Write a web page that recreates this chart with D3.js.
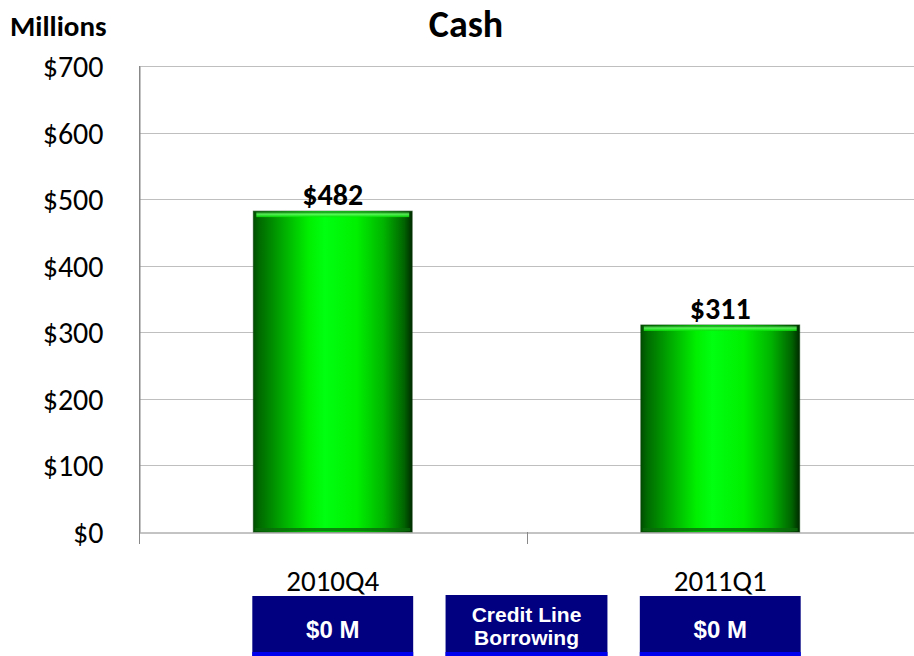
<!DOCTYPE html>
<html><head><meta charset="utf-8">
<script src="https://cdn.jsdelivr.net/npm/d3@7"></script>
<style>body{margin:0;background:#fff}svg{display:block}</style>
</head><body>
<svg id="c" width="914" height="656"></svg>
<script>
const categories = ["2010Q4", "2011Q1"];
const cashValues = [482, 311];
const valueLabels = ["$482", "$311"];
const yTicks = [0, 100, 200, 300, 400, 500, 600, 700];
const boxLabels = [["$0 M"], ["Credit Line", "Borrowing"], ["$0 M"]];
const title = "Cash";
const unitLabel = "Millions";

(function () {
const svg = d3.select("#c");
const font = "Calibri, Carlito, 'Open Sans', sans-serif";
const pLeft = 139, pRight = 914, pTop = 66, pBottom = 532;

const x = d3.scaleBand().domain(categories).range([pLeft, pRight]);
const y = d3.scaleLinear().domain([0, 700]).range([pBottom, pTop]);
const barW = x.bandwidth() * 0.41;

const defs = svg.append("defs");
const g = defs.append("linearGradient").attr("id", "gbar").attr("x1", "0").attr("x2", "1").attr("y1", "0").attr("y2", "0");
[[0, "#004d00"], [0.04, "#006b00"], [0.18, "#00a800"], [0.35, "#00f000"], [0.45, "#00ff10"], [0.65, "#00f000"], [0.82, "#00b400"], [0.95, "#006400"], [1, "#002a00"]]
  .forEach(([o, c]) => g.append("stop").attr("offset", o).attr("stop-color", c));
const gt = defs.append("linearGradient").attr("id", "gtop").attr("x1", "0").attr("x2", "0").attr("y1", "0").attr("y2", "1");
[[0, "#1a7a1a"], [0.4, "#66ff66"], [1, "#00e000"]].forEach(([o, c]) => gt.append("stop").attr("offset", o).attr("stop-color", c));

// gridlines
svg.append("g").selectAll("line").data(yTicks.filter(d => d > 0)).join("line")
  .attr("x1", pLeft).attr("x2", pRight).attr("y1", d => Math.round(y(d)) + 0.5).attr("y2", d => Math.round(y(d)) + 0.5)
  .attr("stroke", "#bfbfbf").attr("stroke-width", 1);

// y axis
const ya = svg.append("g").attr("transform", `translate(${pLeft + 0.5},0)`)
  .call(d3.axisLeft(y).tickValues(yTicks).tickSize(0).tickPadding(36).tickFormat(d => "$" + d));
ya.select(".domain").attr("stroke", "#888");
ya.selectAll("text").attr("font-family", font).attr("font-size", 30).attr("fill", "#000").attr("dy", "0.35em");

// x axis
const xa = svg.append("g").attr("transform", `translate(0,${Math.round(pBottom) + 0.5})`)
  .call(d3.axisBottom(x).tickSize(0).tickFormat(""));
xa.select(".domain").attr("stroke", "#888");
svg.append("g").selectAll("line").data([pLeft, x(categories[1]), pRight - 0.5]).join("line")
  .attr("x1", d => Math.round(d) + 0.5).attr("x2", d => Math.round(d) + 0.5)
  .attr("y1", pBottom).attr("y2", pBottom + 12).attr("stroke", "#888");
svg.append("line").attr("x1", pLeft + 0.5).attr("x2", pLeft + 0.5).attr("y1", pTop).attr("y2", pBottom + 12).attr("stroke", "#888");

// bars
const bars = svg.append("g").selectAll("g").data(categories).join("g");
const bx = d => x(d) + (x.bandwidth() - barW) / 2;
bars.append("rect")
  .attr("x", bx)
  .attr("y", (d, i) => y(cashValues[i]))
  .attr("width", barW)
  .attr("height", (d, i) => pBottom - y(cashValues[i]))
  .attr("fill", "url(#gbar)");
bars.append("rect")
  .attr("x", d => bx(d) + 3)
  .attr("y", (d, i) => y(cashValues[i]) + 1)
  .attr("width", barW - 6)
  .attr("height", 5)
  .attr("fill", "url(#gtop)").attr("opacity", 0.85);
bars.append("rect")
  .attr("x", d => bx(d) + 2)
  .attr("y", pBottom - 4)
  .attr("width", barW - 4)
  .attr("height", 3)
  .attr("fill", "#0a6a0a").attr("opacity", 0.8);
bars.append("rect")
  .attr("x", bx)
  .attr("y", (d, i) => y(cashValues[i]))
  .attr("width", barW)
  .attr("height", (d, i) => pBottom - y(cashValues[i]))
  .attr("fill", "none").attr("stroke", "#0a3d0a").attr("stroke-width", 1).attr("opacity", 0.6);

// value labels
svg.append("g").selectAll("text").data(categories).join("text")
  .attr("x", d => x(d) + x.bandwidth() / 2)
  .attr("y", (d, i) => y(cashValues[i]) - 6)
  .attr("text-anchor", "middle").attr("font-family", font).attr("font-weight", "bold").attr("font-size", 30)
  .text((d, i) => valueLabels[i]);

// category labels
svg.append("g").selectAll("text").data(categories).join("text")
  .attr("x", d => x(d) + x.bandwidth() / 2)
  .attr("y", 591)
  .attr("text-anchor", "middle").attr("font-family", font).attr("font-size", 29)
  .text(d => d);

// title & unit
svg.append("text").attr("x", 466).attr("y", 37).attr("text-anchor", "middle")
  .attr("font-family", font).attr("font-weight", "bold").attr("font-size", 38).text(title);
svg.append("text").attr("x", 10).attr("y", 36)
  .attr("font-family", font).attr("font-weight", "bold").attr("font-size", 29).text(unitLabel);

// boxes below
const c0 = x(categories[0]) + x.bandwidth() / 2, c1 = x(categories[1]) + x.bandwidth() / 2;
const boxes = [
  { cx: c0, w: barW + 2, top: 596 },
  { cx: x(categories[1]), w: barW + 3, top: 595 },
  { cx: c1, w: barW + 2, top: 596 }
];
const bg = svg.append("g").selectAll("g").data(boxes).join("g");
bg.append("rect").attr("x", d => d.cx - d.w / 2).attr("y", d => d.top).attr("width", d => d.w).attr("height", d => 656 - d.top).attr("fill", "#000080");
bg.append("rect").attr("x", d => d.cx - d.w / 2).attr("y", 652).attr("width", d => d.w).attr("height", 4).attr("fill", "#0000ee");
bg.each(function (d, i) {
  const lines = boxLabels[i];
  const t = d3.select(this).append("text").attr("text-anchor", "middle")
    .attr("font-family", "'Liberation Sans', Arial, sans-serif").attr("font-weight", "bold")
    .attr("fill", "#fff").attr("font-size", lines.length > 1 ? 21 : 24);
  if (lines.length === 1) {
    t.append("tspan").attr("x", d.cx).attr("y", 638).text(lines[0]);
  } else {
    t.append("tspan").attr("x", d.cx).attr("y", 622).text(lines[0]);
    t.append("tspan").attr("x", d.cx).attr("y", 645).text(lines[1]);
  }
});
})();
</script>
</body></html>
